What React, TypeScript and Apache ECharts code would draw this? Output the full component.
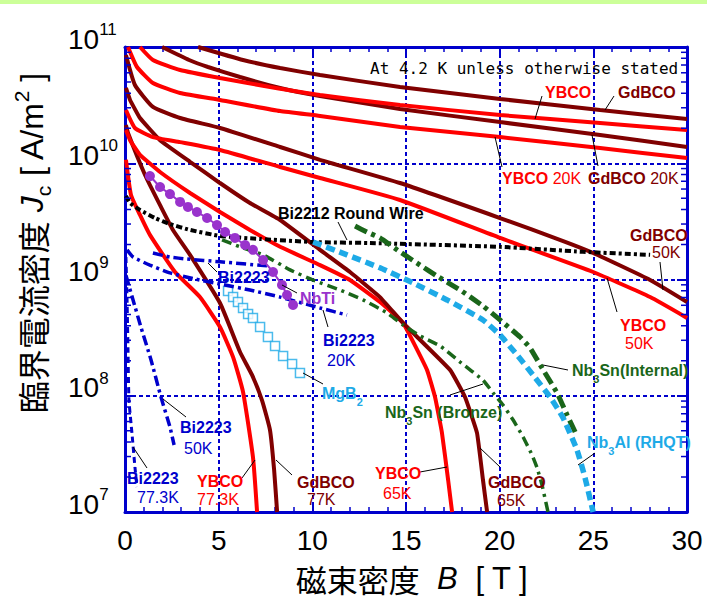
import React, { useEffect, useRef } from "react";
import * as echarts from "echarts";

type Pt = [number, number];

// ---- axes ----
const bMin = 0;
const bMax = 30;
const bInterval = 5;
const jDecades = [1e7, 1e8, 1e9, 1e10, 1e11];
const minorMultipliers = [2, 3, 4, 5, 6, 7, 8, 9];

// ---- series: [B (T), Jc (A/m^2)] ----
const gdbco4K: Pt[] = [[3.9, 1.0e11], [6.3, 7.73e10], [8.28, 6.59e10], [10.41, 5.74e10], [14.68, 4.53e10], [20.02, 3.57e10], [25.36, 2.87e10], [30, 2.4e10]];
const ybco4K: Pt[] = [[0.8, 1.0e11], [1.49, 7.73e10], [2.94, 6.34e10], [5.07, 5.41e10], [7.74, 4.53e10], [10.41, 3.86e10], [14.68, 3.17e10], [20.02, 2.6e10], [25.36, 2.22e10], [30, 1.93e10]];
const gdbco20K: Pt[] = [[1.98, 1.0e11], [3.42, 7.73e10], [4.43, 6.73e10], [6.14, 5.52e10], [8.28, 4.44e10], [10.41, 3.79e10], [14.68, 2.93e10], [20.02, 2.26e10], [25.36, 1.75e10], [30, 1.38e10]];
const ybco20K: Pt[] = [[0.16, 1.0e11], [0.64, 6.73e10], [1.49, 4.9e10], [2.94, 4.02e10], [5.07, 3.5e10], [8.28, 2.81e10], [10.41, 2.55e10], [14.68, 2.05e10], [20.02, 1.68e10], [25.36, 1.35e10], [30, 1.11e10]];
const gdbco50K: Pt[] = [[0.05, 8.53e10], [0.53, 4.71e10], [1.49, 3.05e10], [2.94, 2.45e10], [5.07, 2.01e10], [8.28, 1.38e10], [10.41, 1.07e10], [14.68, 6.76e9], [20.02, 3.38e9], [23.39, 2.14e9], [24.99, 1.69e9], [28.03, 9.9e8], [30, 6.4e8]];
const ybco50K: Pt[] = [[0.05, 2.87e10], [0.53, 2.01e10], [1.49, 1.68e10], [2.94, 1.52e10], [5.07, 1.3e10], [8.28, 9.29e9], [10.41, 7.47e9], [14.68, 4.83e9], [20.02, 2.28e9], [24.99, 1.16e9], [28.03, 7.06e8], [30, 4.67e8]];
const gdbco65K: Pt[] = [[0.05, 4.44e10], [0.27, 3.5e10], [0.8, 2.45e10], [1.87, 1.58e10], [3.47, 1.03e10], [5.07, 6.76e9], [6.67, 4.55e9], [8.28, 3.25e9], [10.41, 1.8e9], [12.01, 1.16e9], [13.61, 7.06e8], [14.84, 4.23e8], [17.35, 1.67e8], [18.15, 9.75e7], [18.79, 4.79e7], [19.11, 1.88e7], [19.33, 1.0e7]];
const ybco65K: Pt[] = [[0.05, 1.93e10], [0.27, 1.58e10], [0.8, 1.18e10], [1.87, 8.41e9], [3.47, 5.55e9], [5.07, 3.81e9], [6.67, 2.67e9], [8.28, 1.91e9], [10.41, 1.33e9], [12.01, 9.9e8], [13.61, 6.4e8], [14.84, 4.23e8], [16.12, 1.67e8], [16.55, 9.75e7], [16.92, 4.79e7], [17.25, 1.88e7], [17.46, 1.0e7]];
const ybco77K: Pt[] = [[0.05, 1.07e10], [0.32, 5.33e9], [0.8, 3.59e9], [1.33, 2.42e9], [2.67, 1.16e9], [4.0, 7.06e8], [5.07, 3.9e8], [5.77, 2.15e8], [6.3, 1.08e8], [6.83, 2.97e7], [7.05, 1.0e7]];
const gdbco77K: Pt[] = [[0.05, 2.13e10], [0.16, 1.82e10], [1.07, 7.93e9], [1.92, 4.21e9], [2.56, 2.67e9], [3.47, 1.63e9], [5.07, 6.28e8], [6.14, 2.38e8], [6.78, 1.51e8], [7.31, 9.18e7], [7.74, 5.07e7], [7.96, 2.3e7], [8.12, 1.0e7]];
const bi2212: Pt[] = [[0.05, 5.22e9], [0.27, 4.55e9], [0.8, 3.96e9], [1.6, 3.38e9], [2.4, 3.0e9], [3.47, 2.67e9], [5.07, 2.37e9], [7.21, 2.23e9], [10.04, 2.1e9], [13.08, 2.06e9], [15.06, 2.02e9], [20.02, 1.91e9], [24.45, 1.73e9], [28.03, 1.63e9]];
const nbti: Pt[] = [[1.33, 7.76e9], [1.87, 6.25e9], [2.4, 5.43e9], [2.94, 4.65e9], [3.36, 4.21e9], [3.84, 3.81e9], [4.38, 3.38e9], [4.91, 2.94e9], [5.34, 2.56e9], [5.87, 2.28e9], [6.41, 1.98e9], [6.83, 1.8e9], [7.37, 1.47e9], [7.9, 1.16e9], [8.38, 8.98e8], [8.65, 7.36e8], [8.97, 6.04e8]];
const bi2223_4K: Pt[] = [[1.49, 1.69e9], [2.4, 1.56e9], [3.31, 1.5e9], [5.07, 1.42e9], [7.58, 1.31e9]];
const bi2223_20K: Pt[] = [[0.11, 1.8e9], [0.43, 1.56e9], [1.33, 1.33e9], [2.4, 1.14e9], [3.74, 1.01e9], [5.07, 9.15e8], [6.67, 8.12e8], [8.28, 7.06e8], [10.41, 5.69e8], [11.85, 4.95e8]];
const bi2223_50K: Pt[] = [[0.05, 1.09e9], [0.43, 6.67e8], [0.85, 3.9e8], [1.39, 2.03e8], [1.92, 9.75e7], [2.4, 5.38e7], [2.62, 3.77e7]];
const bi2223_77K: Pt[] = [[0.05, 1.56e9], [0.11, 6.67e8], [0.16, 2.48e8], [0.21, 9.18e7], [0.37, 4.79e7], [0.53, 2.44e7], [0.64, 1.64e7]];
const mgb2: Pt[] = [[5.5, 7.97e8], [5.77, 7.06e8], [6.03, 6.4e8], [6.3, 5.69e8], [6.57, 5.05e8], [6.83, 4.67e8], [7.21, 3.9e8], [7.63, 3.2e8], [8.01, 2.68e8], [8.44, 2.2e8], [8.92, 1.88e8], [9.34, 1.57e8]];
const nb3snInternal: Pt[] = [[12.28, 2.88e9], [12.92, 2.56e9], [13.61, 2.28e9], [14.68, 1.73e9], [15.75, 1.33e9], [16.66, 1.07e9], [17.89, 8.12e8], [19.11, 5.92e8], [20.02, 4.49e8], [21.09, 3.2e8], [21.62, 2.58e8], [22.32, 1.67e8], [23.06, 1.06e8], [23.6, 6.82e7], [24.03, 4.88e7]];
const nb3snBronze: Pt[] = [[5.18, 2.19e9], [6.14, 1.91e9], [7.37, 1.63e9], [8.81, 1.21e9], [10.04, 9.9e8], [11.48, 8.12e8], [12.71, 6.67e8], [13.99, 5.15e8], [14.84, 4.06e8], [15.75, 3.27e8], [16.82, 2.68e8], [17.89, 1.95e8], [19.11, 1.36e8], [19.65, 1.06e8], [20.18, 8.32e7], [20.72, 6.18e7], [21.25, 4.42e7], [21.73, 3.09e7], [22.0, 2.39e7], [22.26, 1.71e7], [22.58, 1.0e7]];
const nb3al: Pt[] = [[10.04, 2.1e9], [11.85, 1.63e9], [13.61, 1.26e9], [15.38, 9.33e8], [17.19, 6.67e8], [19.11, 4.49e8], [20.02, 3.33e8], [20.93, 2.24e8], [21.78, 1.51e8], [22.69, 9.75e7], [23.39, 6.44e7], [24.13, 3.41e7], [24.56, 1.96e7], [24.99, 1.0e7]];

const RED = "#ff0000";
const DARKRED = "#800000";
const BLUE = "#0000cc";
const PURPLE = "#9933cc";
const CYAN = "#1eaae7";
const GREEN = "#1a661a";
const SANS = "Liberation Sans, Arial, sans-serif";
const CJK = "Noto Sans CJK JP";

export default function App() {
  const ref = useRef<HTMLDivElement>(null);

  useEffect(() => {
    document.body.style.margin = "0";
    const chart = echarts.init(ref.current!, undefined, { renderer: "svg" });

    const yMinorTicks = jDecades.slice(0, -1).flatMap((d) => minorMultipliers.map((m) => m * d));

    const curve = (name: string, data: Pt[], color: string, width: number, type: any = "solid", smooth: number = 0.15) => ({
      type: "line",
      name,
      data,
      showSymbol: false,
      smooth,
      silent: true,
      lineStyle: { color, width, type, cap: "butt" },
      itemStyle: { color },
    });

    const mk = (fill: string, bold: boolean, size = 16, extra: any = {}) => ({
      fill,
      fontSize: size,
      fontWeight: bold ? "bold" : "normal",
      fontFamily: SANS,
      verticalAlign: "top",
      ...extra,
    });
    const labelRich: any = {
      rb: mk(RED, true),
      rn: mk(RED, false),
      db: mk(DARKRED, true),
      dn: mk(DARKRED, false),
      bb: mk(BLUE, true),
      bn: mk(BLUE, false),
      kb: mk("#000", true),
      pb: mk(PURPLE, true),
      cb: mk(CYAN, true),
      cs: mk(CYAN, true, 11, { padding: [11, 0, 0, 0] }),
      gb: mk(GREEN, true),
      gs: mk(GREEN, true, 11, { padding: [11, 0, 0, 0] }),
    };

    // [left x, centre y, text]
    const labels: [number, number, string][] = [
      [545, 92, "{rb|YBCO}"],
      [618, 92, "{db|GdBCO}"],
      [502, 178, "{rb|YBCO}{rn| 20K}"],
      [588, 178, "{db|GdBCO}{dn| 20K}"],
      [278, 213, "{kb|Bi2212 Round Wire}"],
      [630, 235, "{db|GdBCO}"],
      [652, 252, "{dn|50K}"],
      [620, 325, "{rb|YBCO}"],
      [625, 343, "{rn|50K}"],
      [300, 298, "{pb|NbTi}"],
      [218, 277, "{bb|Bi2223}"],
      [323, 340, "{bb|Bi2223}"],
      [327, 360, "{bn|20K}"],
      [322, 393, "{cb|MgB}{cs|2}"],
      [180, 427, "{bb|Bi2223}"],
      [184, 448, "{bn|50K}"],
      [127, 478, "{bb|Bi2223}"],
      [137, 497, "{bn|77.3K}"],
      [197, 481, "{rb|YBCO}"],
      [197, 499, "{rn|77.3K}"],
      [297, 482, "{db|GdBCO}"],
      [307, 499, "{dn|77K}"],
      [375, 473, "{rb|YBCO}"],
      [383, 493, "{rn|65K}"],
      [488, 482, "{db|GdBCO}"],
      [497, 500, "{dn|65K}"],
      [572, 370, "{gb|Nb}{gs|3}{gb|Sn(Internal)}"],
      [385, 412, "{gb|Nb}{gs|3}{gb|Sn (Bronze)}"],
      [587, 442, "{cb|Nb}{cs|3}{cb|Al (RHQT)}"],
    ];

    const leaders: [number, number, number, number][] = [
      [542, 96, 535, 119],
      [614, 96, 605, 110],
      [502, 167, 495, 137],
      [598, 166, 592, 135],
      [338, 222, 347, 240],
      [660, 262, 663, 290],
      [617, 312, 607, 278],
      [297, 293, 282, 285],
      [217, 272, 208, 263],
      [328, 327, 323, 310],
      [323, 384, 303, 373],
      [186, 417, 163, 399],
      [147, 468, 133, 447],
      [242, 478, 255, 460],
      [292, 475, 276, 460],
      [420, 472, 447, 467],
      [500, 467, 480, 448],
      [568, 370, 543, 365],
      [450, 395, 483, 384],
      [595, 453, 578, 465],
    ];

    const yTitleRich: any = {
      c: { fontFamily: CJK, fontSize: 32, fill: "#000", verticalAlign: "top", padding: [5, 0, 0, 0] },
      n: { fontFamily: SANS, fontSize: 32, fill: "#000", verticalAlign: "top", padding: [5, 0, 0, 0] },
      i: { fontFamily: SANS, fontStyle: "italic", fontSize: 32, fill: "#000", verticalAlign: "top", padding: [5, 0, 0, 0] },
      sup: { fontFamily: SANS, fontSize: 21, fill: "#000", verticalAlign: "top" },
      sub: { fontFamily: SANS, fontSize: 21, fill: "#000", verticalAlign: "top", padding: [22, 0, 0, 0] },
    };
    const xTitleRich: any = {
      c: { fontFamily: CJK, fontSize: 31, fill: "#000" },
      n: { fontFamily: SANS, fontSize: 31, fill: "#000" },
      i: { fontFamily: SANS, fontStyle: "italic", fontSize: 31, fill: "#000" },
    };

    const graphic: any[] = [
      { type: "rect", shape: { x: 0, y: 0, width: 707, height: 4 }, style: { fill: "#ccff99" }, silent: true },
      {
        type: "text",
        x: 370,
        y: 68,
        z: 100,
        style: { text: "At 4.2 K unless otherwise stated", fontFamily: "DejaVu Sans Mono", fontSize: 16, fill: "#000", align: "left", verticalAlign: "middle" },
      },
      ...leaders.map(([x1, y1, x2, y2]) => ({
        type: "line",
        z: 100,
        silent: true,
        shape: { x1, y1, x2, y2 },
        style: { stroke: "#000", lineWidth: 1 },
      })),
      ...labels.map(([x, y, text]) => ({
        type: "text",
        x,
        y: y - 8,
        z: 100,
        silent: true,
        style: { text, rich: labelRich, fontSize: 16, fontFamily: SANS, align: "left", verticalAlign: "top" },
      })),
      {
        type: "text",
        x: 412,
        y: 578,
        z: 100,
        style: { text: "{c|磁束密度}{n|  }{i|B}{n|  [ T ]}", rich: xTitleRich, fontSize: 31, align: "center", verticalAlign: "middle" },
      },
      {
        type: "text",
        x: 32,
        y: 243,
        rotation: Math.PI / 2,
        z: 100,
        style: { text: "{c|臨界電流密度}{n| }{i|J}{sub|c}{n| [ A/m}{sup|2}{n| ]}", rich: yTitleRich, fontSize: 32, align: "center", verticalAlign: "middle" },
      },
    ];

    const axisLineStyle = { color: BLUE, width: 3 };
    const xCommon = {
      type: "value",
      min: bMin,
      max: bMax,
      interval: bInterval,
      axisLine: { show: true, onZero: false, lineStyle: axisLineStyle },
      axisTick: { show: true, inside: true, length: 9, lineStyle: { color: BLUE, width: 2 } },
      minorTick: { show: true, splitNumber: 5, length: 5, lineStyle: { color: BLUE, width: 1.5 } },
    };
    const yCommon = {
      type: "log",
      logBase: 10,
      min: jDecades[0],
      max: jDecades[jDecades.length - 1],
      axisLine: { show: true, onZero: false, lineStyle: axisLineStyle },
      axisTick: { show: true, inside: true, length: 10, lineStyle: { color: BLUE, width: 2 } },
    };

    const option: any = {
      animation: false,
      backgroundColor: "#ffffff",
      grid: { left: 125, right: 20, top: 47, bottom: 87, containLabel: false },
      xAxis: [
        {
          ...xCommon,
          position: "bottom",
          splitLine: { show: true, lineStyle: { color: BLUE, width: 2, type: [4, 3] } },
          axisLabel: { show: true, fontSize: 28, fontFamily: SANS, color: "#000", margin: 14, showMinLabel: true, showMaxLabel: true },
        },
        { ...xCommon, position: "top", splitLine: { show: false }, axisLabel: { show: false } },
      ],
      yAxis: [
        {
          ...yCommon,
          position: "left",
          splitLine: { show: true, lineStyle: { color: BLUE, width: 2, type: [4, 3] } },
          axisLabel: {
            show: true,
            align: "left",
            margin: 57,
            showMinLabel: true,
            showMaxLabel: true,
            formatter: (v: number) => `{b|10}{s|${Math.round(Math.log10(v))}}`,
            rich: {
              b: { fontSize: 28, fontFamily: SANS, color: "#000", verticalAlign: "top", padding: [4, 0, 20, 0] },
              s: { fontSize: 17, fontFamily: SANS, color: "#000", verticalAlign: "top" },
            },
          },
        },
        { ...yCommon, position: "right", splitLine: { show: false }, axisLabel: { show: false } },
      ],
      graphic,
      series: [
        curve("YBCO 77.3K", ybco77K, RED, 4),
        curve("GdBCO 77K", gdbco77K, DARKRED, 4),
        curve("YBCO 65K", ybco65K, RED, 4, "solid", 0.1),
        curve("GdBCO 65K", gdbco65K, DARKRED, 4, "solid", 0.1),
        curve("YBCO 50K", ybco50K, RED, 4),
        curve("GdBCO 50K", gdbco50K, DARKRED, 4),
        curve("YBCO 20K", ybco20K, RED, 4),
        curve("GdBCO 20K", gdbco20K, DARKRED, 4),
        curve("YBCO 4.2K", ybco4K, RED, 4),
        curve("GdBCO 4.2K", gdbco4K, DARKRED, 4),
        curve("Bi2212 Round Wire", bi2212, "#000000", 4, [6, 3, 3, 3]),
        curve("Bi2223 4.2K", bi2223_4K, BLUE, 3.5, [10, 4, 3, 4]),
        curve("Bi2223 20K", bi2223_20K, BLUE, 3.5, [10, 4, 3, 4]),
        curve("Bi2223 50K", bi2223_50K, BLUE, 3.5, [10, 4, 3, 4]),
        curve("Bi2223 77.3K", bi2223_77K, BLUE, 3, [6, 4]),
        curve("Nb3Sn (Bronze)", nb3snBronze, GREEN, 3.5, [10, 5, 3, 5]),
        curve("Nb3Sn (Internal)", nb3snInternal, GREEN, 5, [13, 5, 4, 5]),
        curve("Nb3Al (RHQT)", nb3al, CYAN, 5.5, [9, 5]),
        {
          type: "line",
          name: "NbTi",
          data: nbti,
          symbol: "circle",
          symbolSize: 10,
          showSymbol: true,
          silent: true,
          lineStyle: { color: PURPLE, width: 2 },
          itemStyle: { color: PURPLE },
        },
        {
          type: "scatter",
          name: "MgB2",
          data: mgb2,
          symbol: "rect",
          symbolSize: 9,
          silent: true,
          itemStyle: { color: "#ffffff", borderColor: CYAN, borderWidth: 1.5 },
        },
        {
          type: "custom",
          name: "minor ticks",
          silent: true,
          z: 10,
          data: yMinorTicks.map((v) => [bMin, v]),
          renderItem: (params: any, api: any) => {
            const pt = api.coord([api.value(0), api.value(1)]);
            const cs = params.coordSys;
            const y = pt[1];
            return {
              type: "group",
              children: [
                { type: "line", shape: { x1: cs.x, y1: y, x2: cs.x + 6, y2: y }, style: { stroke: BLUE, lineWidth: 1.5 } },
                { type: "line", shape: { x1: cs.x + cs.width - 6, y1: y, x2: cs.x + cs.width, y2: y }, style: { stroke: BLUE, lineWidth: 1.5 } },
              ],
            };
          },
        },
      ],
    };

    chart.setOption(option);
    return () => chart.dispose();
  }, []);

  return <div ref={ref} style={{ width: 707, height: 599 }} />;
}
